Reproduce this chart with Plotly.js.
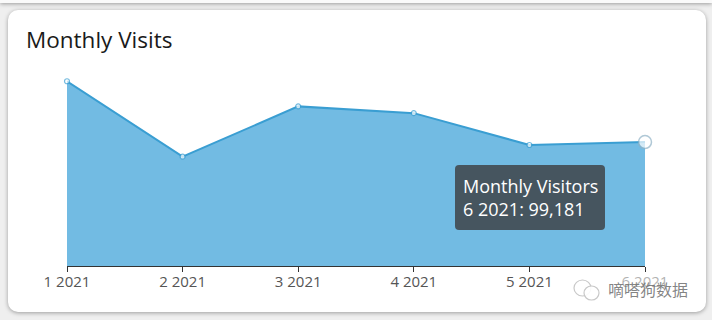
<!DOCTYPE html>
<html>
<head>
<meta charset="utf-8">
<script src="https://cdn.plot.ly/plotly-3.0.1.min.js"></script>
<style>
  html, body { margin: 0; padding: 0; width: 712px; height: 320px; overflow: hidden; background: #efefef; }
  #topband { position: absolute; left: 0; top: -40px; width: 712px; height: 43px; background: #fafafa; box-shadow: 0 1px 4px rgba(0,0,0,0.35); }
  #card { position: absolute; left: 8px; top: 10px; width: 698px; height: 302px; background: #ffffff; border-radius: 10px; box-shadow: 0 1px 4px rgba(0,0,0,0.35); }
  #chart { position: absolute; left: 0; top: 0; width: 712px; height: 320px; }
</style>
</head>
<body>
<div id="topband"></div>
<div id="card"></div>
<div id="chart"></div>
<script>
// ---- data ----
const categories = ["1 2021", "2 2021", "3 2021", "4 2021", "5 2021", "6 2021"];
const visitors = [147800, 87500, 127700, 122300, 96800, 99181];
const seriesName = "Monthly Visitors";
const chartTitle = "Monthly Visits";
const watermark = "嘀嗒狗数据";
const hoverIndex = 5;

// ---- layout helpers (pixel -> paper) ----
const L = 67, R = 645, T = 66, B = 266;
const px = x => (x - L) / (R - L);
const py = y => (B - y) / (B - T);

const fmt = v => v.toLocaleString("en-US");

// rounded rectangle path in paper coords from pixel box
function roundRect(x0, y0, x1, y1, r) {
  const X = v => px(v), Y = v => py(v);
  return "M" + X(x0 + r) + "," + Y(y0) +
    " L" + X(x1 - r) + "," + Y(y0) +
    " Q" + X(x1) + "," + Y(y0) + " " + X(x1) + "," + Y(y0 + r) +
    " L" + X(x1) + "," + Y(y1 - r) +
    " Q" + X(x1) + "," + Y(y1) + " " + X(x1 - r) + "," + Y(y1) +
    " L" + X(x0 + r) + "," + Y(y1) +
    " Q" + X(x0) + "," + Y(y1) + " " + X(x0) + "," + Y(y1 - r) +
    " L" + X(x0) + "," + Y(y0 + r) +
    " Q" + X(x0) + "," + Y(y0) + " " + X(x0 + r) + "," + Y(y0) + " Z";
}

const trace = {
  type: "scatter",
  mode: "lines+markers",
  x: categories,
  y: visitors,
  name: seriesName,
  fill: "tozeroy",
  fillcolor: "#72bbe3",
  line: { color: "#3a9ed2", width: 2 },
  cliponaxis: false,
  marker: {
    color: "#ffffff",
    size: visitors.map((v, i) => i === hoverIndex ? 13 : 5),
    line: {
      color: visitors.map((v, i) => i === hoverIndex ? "#8fb2c6" : "#3a9ed2"),
      width: visitors.map((v, i) => i === hoverIndex ? 1.5 : 1.2)
    }
  },
  hoverinfo: "skip"
};

const layout = {
  width: 712,
  height: 320,
  margin: { l: L, r: 712 - R, t: T, b: 320 - B },
  paper_bgcolor: "rgba(0,0,0,0)",
  plot_bgcolor: "rgba(0,0,0,0)",
  showlegend: false,
  font: { family: "'Open Sans', sans-serif", color: "#444" },
  title: {
    text: chartTitle,
    font: { family: "'Open Sans', sans-serif", size: 22.5, color: "#1a1a1a" },
    xref: "container", yref: "container",
    x: 26 / 712, xanchor: "left",
    y: 1 - 47.5 / 320, yanchor: "bottom",
    pad: { t: 0, b: 0, l: 0, r: 0 }
  },
  xaxis: {
    type: "category",
    range: [0, categories.length - 1],
    showline: true, linecolor: "#333", linewidth: 1,
    ticks: "outside", ticklen: 5, tickcolor: "#333", tickwidth: 1,
    ticklabelstandoff: -3,
    showgrid: false, zeroline: false,
    tickfont: { family: "'Open Sans', sans-serif", size: 15, color: "#555" },
    fixedrange: true
  },
  yaxis: {
    visible: false,
    range: [0, 160000],
    showgrid: false, zeroline: false,
    fixedrange: true
  },
  shapes: [
    { type: "path", xref: "paper", yref: "paper", layer: "above",
      path: roundRect(455, 165, 605, 230, 4),
      line: { width: 0 }, fillcolor: "#46555f" },
    { type: "circle", xref: "paper", yref: "paper",
      x0: px(574), x1: px(591), y0: py(296), y1: py(280),
      line: { color: "#c8c8c8", width: 1.2 }, fillcolor: "rgba(255,255,255,0.9)" },
    { type: "circle", xref: "paper", yref: "paper",
      x0: px(584), x1: px(599), y0: py(300), y1: py(286),
      line: { color: "#c8c8c8", width: 1.2 }, fillcolor: "rgba(255,255,255,0.9)" }
  ],
  annotations: [
    {
      x: px(461), y: py(198), xref: "paper", yref: "paper",
      showarrow: false,
      xanchor: "left", yanchor: "middle",
      align: "left",
      text: seriesName + "<br>" + categories[hoverIndex] + ": " + fmt(visitors[hoverIndex]),
      font: { family: "'Open Sans', sans-serif", size: 18, color: "#ffffff" }
    },
    {
      x: px(606), y: py(289), xref: "paper", yref: "paper",
      xanchor: "left", yanchor: "middle",
      showarrow: false,
      text: watermark,
      font: { family: "'Noto Sans CJK SC', sans-serif", size: 16, color: "rgba(110,110,110,0.85)" },
      bgcolor: "rgba(255,255,255,0.55)"
    }
  ]
};

Plotly.newPlot("chart", [trace], layout, { displayModeBar: false, staticPlot: true });
</script>
</body>
</html>
